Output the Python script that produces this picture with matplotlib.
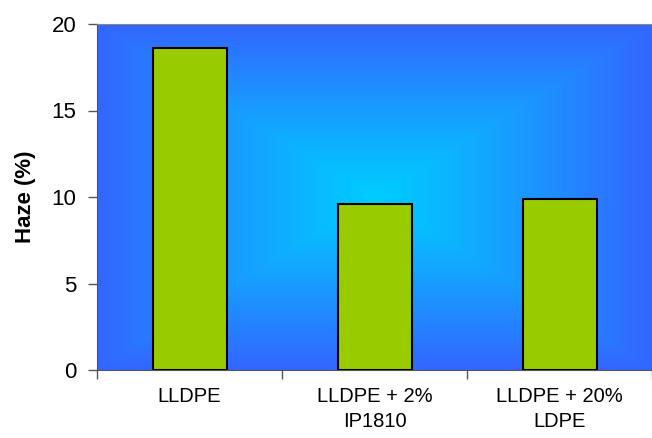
import numpy as np
import matplotlib.pyplot as plt
from matplotlib.colors import LinearSegmentedColormap

plt.rcParams['font.family'] = ['Liberation Sans', 'DejaVu Sans']

# data
categories = ['LLDPE', 'LLDPE + 2%\nIP1810', 'LLDPE + 20%\nLDPE']
haze = [18.6, 9.6, 9.9]
yticks = [0, 5, 10, 15, 20]

fig = plt.figure(figsize=(6.52, 4.38), dpi=100)
ax = fig.add_axes([97/652, 1 - 370/438, 1 - 97/652, 346/438])

# rectangular "from center" gradient background
n = 400
gx, gy = np.meshgrid(np.linspace(-1, 1, n), np.linspace(-1, 1, n))
t = np.maximum(np.abs(gx), np.abs(gy)) ** 1.1
cmap = LinearSegmentedColormap.from_list('bg', ['#00CCFF', '#3366FF'])
ax.imshow(t, cmap=cmap, extent=[0, 1, 0, 1], transform=ax.transAxes,
          aspect='auto', zorder=0, interpolation='bilinear')

x = np.arange(len(categories))
ax.bar(x, haze, width=0.4, color='#99CC00', edgecolor='black', linewidth=1.5, zorder=2)

ax.set_xlim(-0.5, len(categories) - 0.5)
ax.set_ylim(0, 20)
ax.set_yticks(yticks)
ax.tick_params(axis='y', labelsize=16, length=6.5, width=1, color='#555555', pad=8.5)

# category ticks at the boundaries, labels in the middle
ax.set_xticks(np.arange(len(categories) + 1) - 0.5)
ax.set_xticklabels([])
ax.tick_params(axis='x', length=6.5, width=1, color='#555555')
ax.set_xticks(x, minor=True)
ax.set_xticklabels(categories, minor=True, fontsize=14.5, linespacing=1.45)
ax.tick_params(axis='x', which='minor', length=0, pad=12)

ax.spines['right'].set_visible(False)
ax.spines['top'].set_color('#888888')
ax.spines['left'].set_color('#555555')
ax.spines['bottom'].set_color('#555555')

ax.set_ylabel('Haze (%)', fontsize=16, fontweight='bold', labelpad=11)

fig.savefig('out.png', dpi=100)
